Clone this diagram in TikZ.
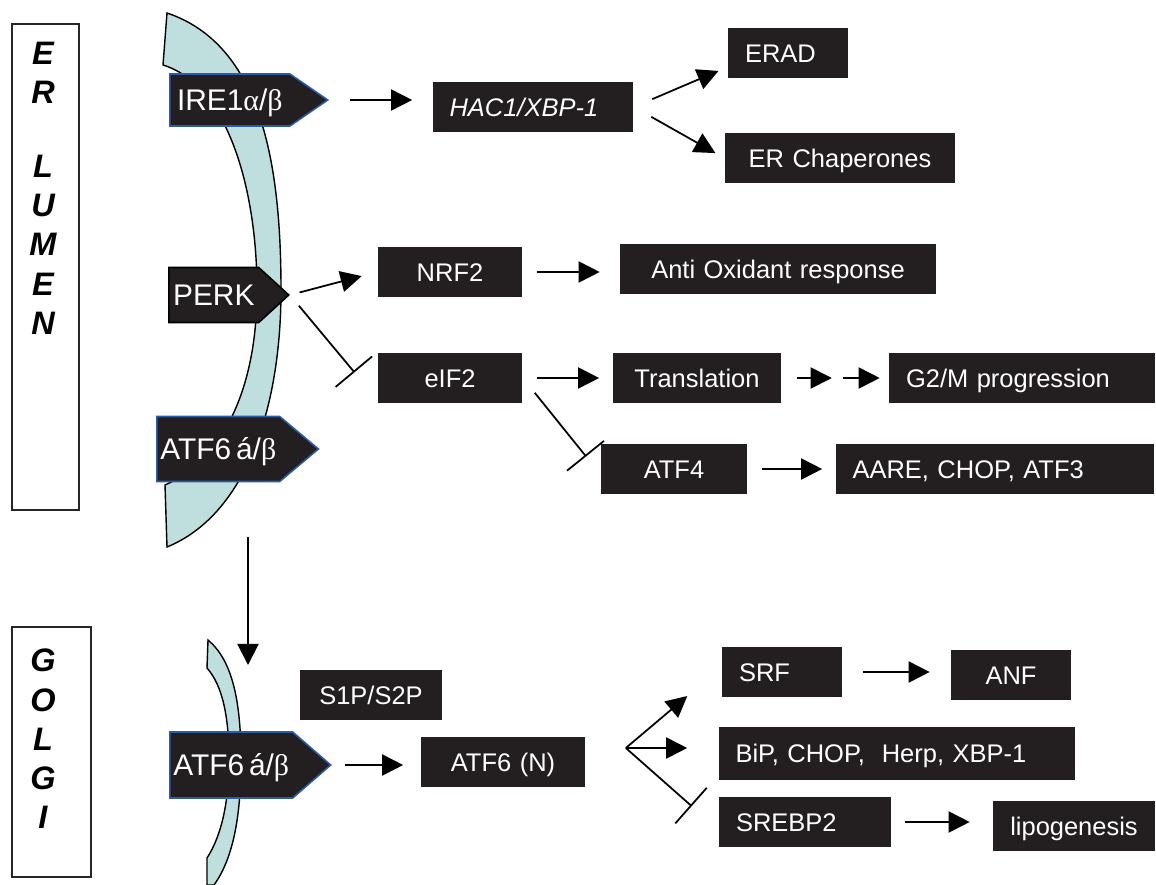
\documentclass[tikz,border=0pt]{standalone}
\usepackage{fontspec}
\setmainfont{Liberation Sans}
\newfontfamily\greekfont{Liberation Serif}
\usepackage{tikz}
\usetikzlibrary{shapes.symbols, arrows.meta, calc}
\definecolor{membrane}{HTML}{BEDFDD}
\definecolor{boxblack}{HTML}{231F20}
\definecolor{rimblue}{HTML}{2A5CAA}
\newcommand{\gk}[1]{{\greekfont #1}}
\tikzstyle{box} = [fill=boxblack, text=white, minimum height=1cm, inner xsep=0.34cm, inner ysep=0pt, text height=10.5pt, text depth=0pt, font=\fontsize{14.5}{17}\selectfont]
\tikzstyle{sensor} = [signal, signal to=east, fill=boxblack, draw=rimblue, line width=0.9pt, text=white, anchor=west, inner sep=2pt, text height=12pt, text depth=0pt, font=\fontsize{17}{19}\selectfont]
\tikzstyle{regionbox} = [draw=black!85, line width=0.8pt]
\tikzstyle{regiontext} = [align=center, inner sep=0pt, font=\fontsize{18.5}{22.3}\selectfont\bfseries\itshape]
\tikzstyle{arrow} = [line width=1pt, -{Triangle[length=12pt,width=12pt]}]
\tikzstyle{inhibit} = [line width=1pt, -{Bar[width=27pt]}]

\begin{document}
\begin{tikzpicture}[x=0.02cm, y=-0.02cm]
\useasboundingbox (0,0) rectangle (1156,885);

% Region labels
\draw[regionbox] (12,24) rectangle (79,510);
\node[regiontext] (lumen) at (43,188) {E\\R\\[20pt]L\\U\\M\\E\\N};
\draw[regionbox] (12,627) rectangle (91,877);
\node[regiontext] (golgitext) at (43,739) {G\\O\\L\\G\\I};

% ER membrane
\draw[fill=membrane, line width=0.8pt] (167,13) .. controls (262,45) and (281,165) .. (281,290)
  .. controls (281,410) and (245,515) .. (167,547) -- (165,485)
  .. controls (222,460) and (257,390) .. (257,290)
  .. controls (257,190) and (228,85) .. (163,65) -- cycle;

% Golgi membrane
\draw[fill=membrane, line width=0.8pt] (208,640) .. controls (232,660) and (241,700) .. (241,760)
  .. controls (241,820) and (232,860) .. (214,885) -- (207,885) -- (207,858)
  .. controls (222,835) and (229,800) .. (229,760)
  .. controls (229,715) and (222,685) .. (207,668) -- cycle;

% Sensors
\node[sensor, minimum width=3.16cm, minimum height=1.04cm, signal pointer angle=69] (ire) at (169,100) {IRE1\gk{α}/\gk{β}};
\node[sensor, draw=black, minimum width=2.4cm, minimum height=1.1cm, signal pointer angle=85] (perk) at (168,295) {PERK};
\node[sensor, minimum width=3.16cm, minimum height=1.3cm, signal pointer angle=80] (atfe) at (156,449) {ATF6\,á/\gk{β}};
\node[sensor, minimum width=3.16cm, minimum height=1.32cm, signal pointer angle=82] (atfg) at (169,765) {ATF6\,á/\gk{β}};

% IRE1 branch
\node[box, text width=3.34cm, align=left] (hac) at (533,107) {\itshape HAC1/XBP-1};
\node[box, text width=1.72cm, align=left] (erad) at (788,53) {ERAD};
\node[box, text width=3.94cm, align=center] (chap) at (840,158) {ER Chaperones};

% PERK branch
\node[box, text width=2.22cm, align=center] (nrf) at (450,272) {NRF2};
\node[box, text width=5.64cm, align=center] (antiox) at (778,269) {Anti Oxidant response};
\node[box, text width=2.22cm, align=center] (eif) at (450,378) {eIF2};
\node[box, text width=2.70cm, align=center] (transl) at (697,378) {Translation};
\node[box, text width=4.64cm, align=left] (gtwo) at (1022,378) {G2/M progression};
\node[box, text width=2.26cm, align=center] (atff) at (674,469) {ATF4};
\node[box, text width=5.70cm, align=left] (aare) at (995,469) {AARE, CHOP, ATF3};

% ATF6 branch
\node[box, text width=2.18cm, align=center] (sonep) at (371,695) {S1P/S2P};
\node[box, text width=2.62cm, align=center] (atfn) at (503,762) {ATF6 (N)};
\node[box, text width=1.72cm, align=left] (srf) at (782,672) {SRF};
\node[box, text width=1.72cm, align=center] (anf) at (1011,675) {ANF};
\node[box, text width=6.46cm, align=left, minimum height=1.06cm] (bip) at (897,753) {BiP, CHOP,\ \ Herp, XBP-1};
\node[box, text width=2.76cm, align=left] (srebp) at (805,822) {SREBP2};
\node[box, text width=2.56cm, align=center] (lipo) at (1074,826) {lipogenesis};

% Connectors, IRE1
\draw[arrow, shorten <=0.42cm, shorten >=0.4cm] (ire.east) -- (ire.east -| hac.west);
\draw[arrow, shorten <=0.4cm, shorten >=0.2cm] (hac.east) -- ([yshift=-0.28cm]erad.west);
\draw[arrow, shorten <=0.4cm, shorten >=0.2cm] (hac.east) -- (chap.west);

% Connectors, PERK
\draw[arrow, shorten <=0.2cm, shorten >=0.32cm] (perk.east) -- (nrf.west);
\draw[inhibit, shorten <=0.28cm, shorten >=0.46cm] (perk.east) -- ([xshift=-0.16cm,yshift=-0.24cm]eif.west);
\draw[arrow, shorten <=0.28cm, shorten >=0.4cm] (nrf.east) -- (nrf.east -| antiox.west);
\draw[arrow, shorten <=0.28cm, shorten >=0.26cm] (eif.east) -- (transl.west);
\draw[inhibit, shorten <=0.38cm, shorten >=0.45cm] (eif.east) -- ([yshift=-0.1cm]atff.west);
\coordinate (relay) at ($(transl.east)!0.5!(gtwo.west)$);
\draw[arrow, shorten <=0.3cm, shorten >=0.07cm] (transl.east) -- (relay);
\draw[arrow, shorten <=0.15cm, shorten >=0.18cm] (relay) -- (gtwo.west);
\draw[arrow, shorten <=0.28cm, shorten >=0.26cm] (atff.east) -- (aare.west);

% Connectors, ATF6
\coordinate (golgi) at (248,665);
\draw[arrow, shorten <=1.1cm] (atfe.south -| golgi) -- (golgi);
\draw[arrow, shorten <=0.26cm, shorten >=0.34cm] (atfg.east) -- (atfg.east -| atfn.west);
\coordinate (fan) at ([xshift=0.8cm,yshift=0.28cm]atfn.east);
\draw[arrow, shorten >=0.9cm] (fan) -- ([yshift=0.1cm]srf.west);
\draw[arrow, shorten >=0.62cm] (fan) -- (fan -| bip.west);
\draw[inhibit, shorten >=0.72cm] (fan) -- ([yshift=-0.16cm]srebp.west);
\draw[arrow, shorten <=0.42cm, shorten >=0.42cm] (srf.east) -- (srf.east -| anf.west);
\draw[arrow, shorten <=0.28cm, shorten >=0.46cm] (srebp.east) -- (srebp.east -| lipo.west);
\end{tikzpicture}
\end{document}
